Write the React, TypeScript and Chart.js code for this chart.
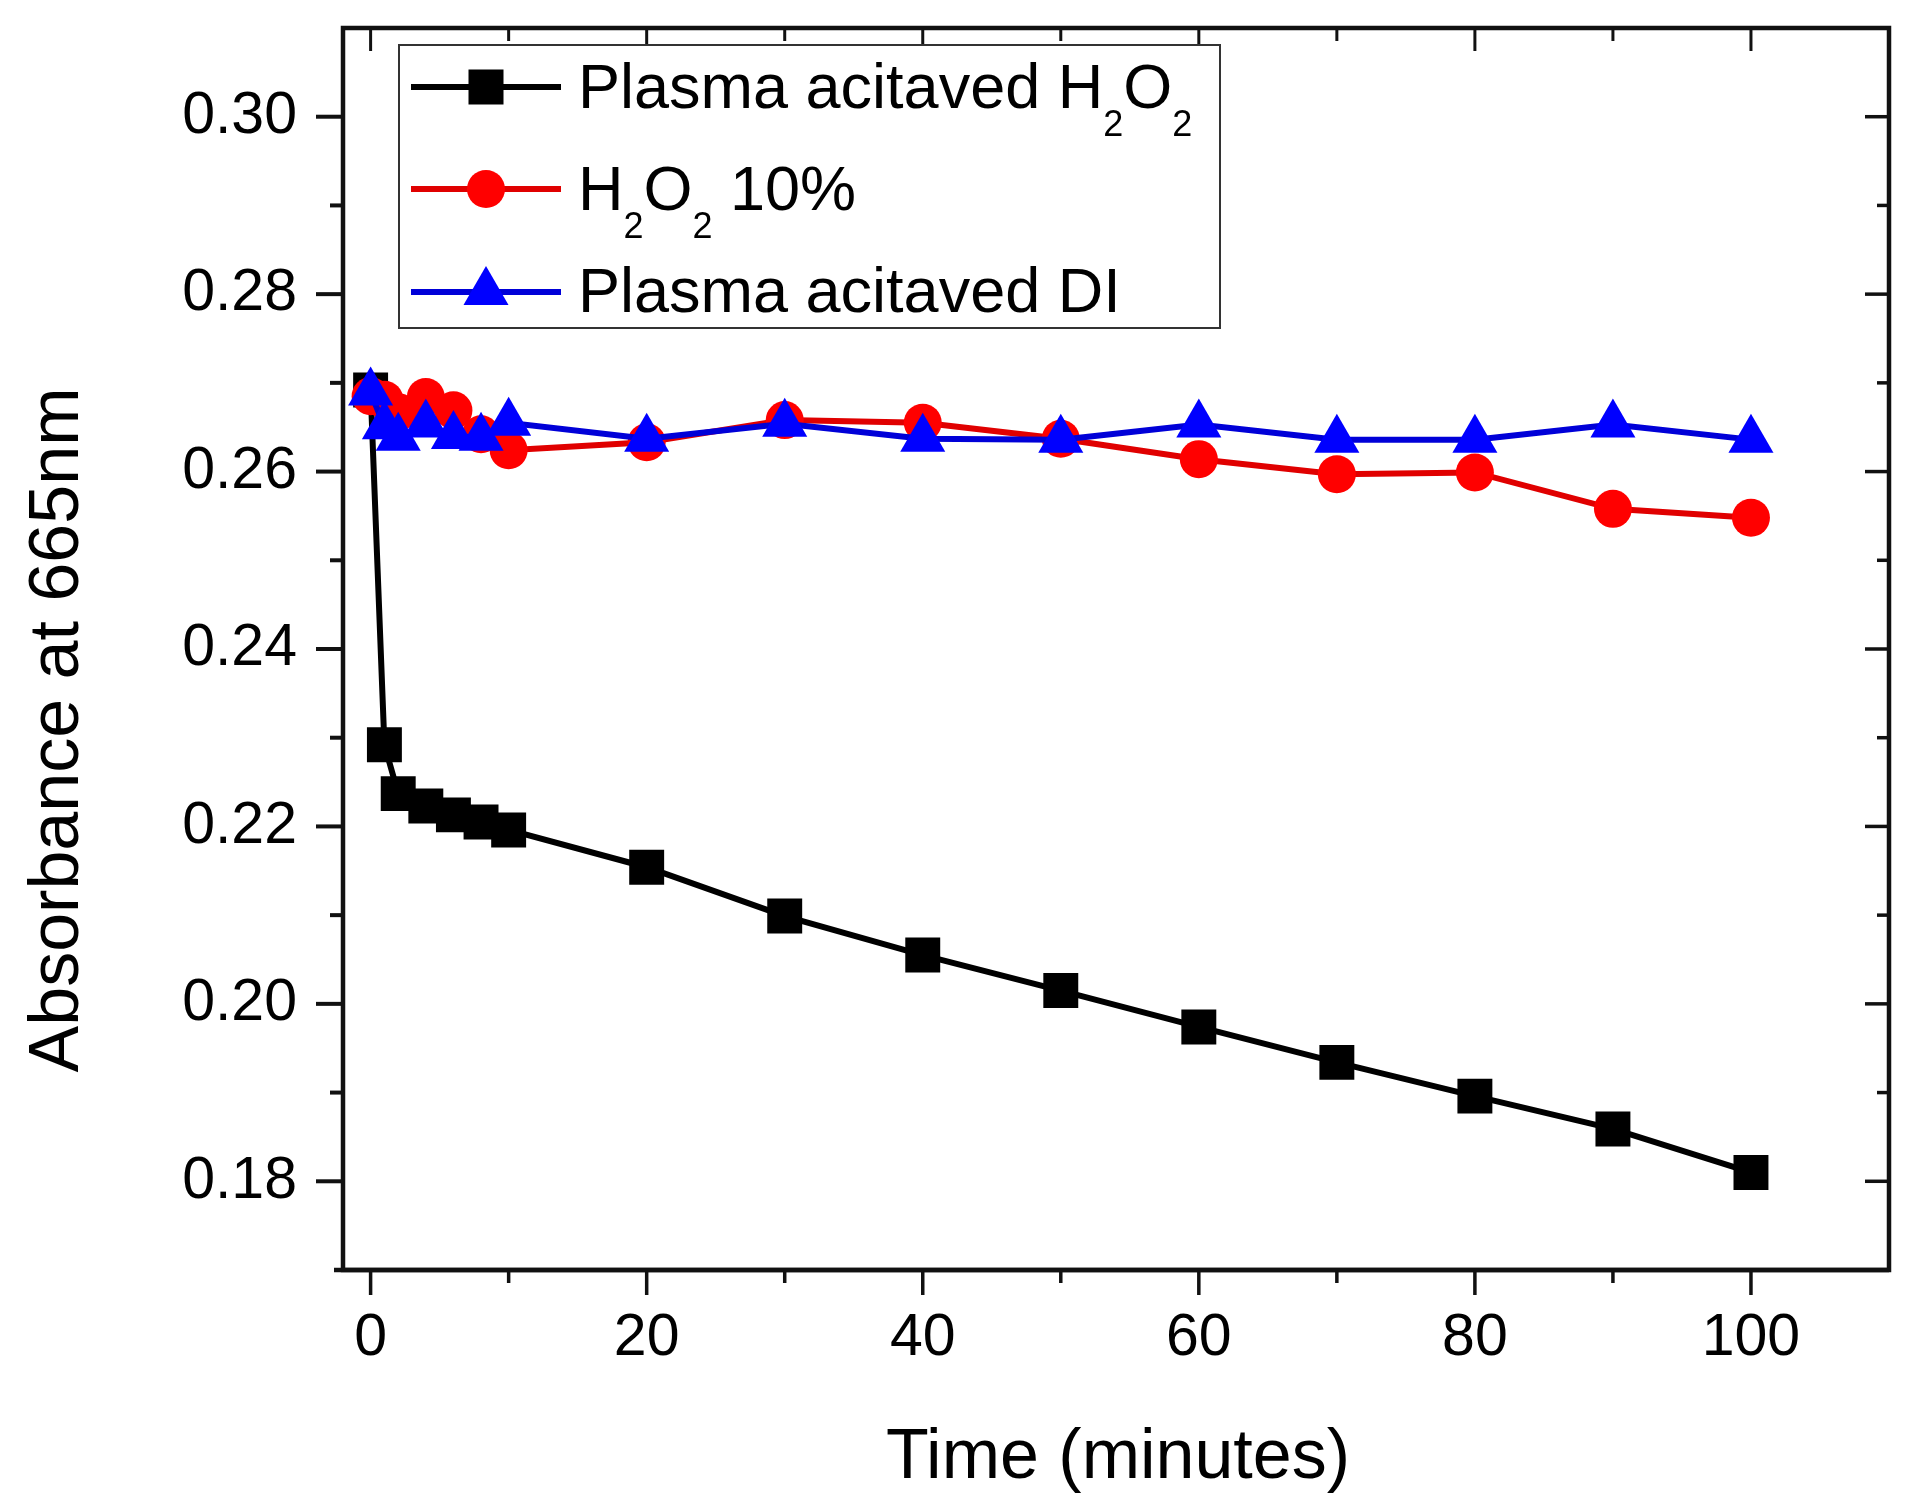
import React, { useEffect, useRef } from 'react';
import { Chart, registerables } from 'chart.js';

Chart.register(...registerables);

// ---- data ----
const TIME = [0, 1, 2, 4, 6, 8, 10, 20, 30, 40, 50, 60, 70, 80, 90, 100];
const PLASMA_H2O2 = [0.2692, 0.2292, 0.2237, 0.2223, 0.2213, 0.2205, 0.2196, 0.2154, 0.2099, 0.2055, 0.2015, 0.1974, 0.1934, 0.1896, 0.1859, 0.181];
const H2O2_10 = [0.2685, 0.2681, 0.2667, 0.2684, 0.2669, 0.2642, 0.2624, 0.2633, 0.2658, 0.2655, 0.2637, 0.2614, 0.2597, 0.2599, 0.2558, 0.2548];
const PLASMA_DI = [0.2689, 0.2651, 0.2638, 0.2653, 0.264, 0.2638, 0.2655, 0.2637, 0.2654, 0.2637, 0.2636, 0.2653, 0.2636, 0.2636, 0.2653, 0.2636];

const X_TICKS = [0, 20, 40, 60, 80, 100];
const X_TICK_LABELS = ['0', '20', '40', '60', '80', '100'];
const X_MINOR = [10, 30, 50, 70, 90];
const Y_TICKS = [0.18, 0.2, 0.22, 0.24, 0.26, 0.28, 0.3];
const Y_TICK_LABELS = ['0.18', '0.20', '0.22', '0.24', '0.26', '0.28', '0.30'];
const Y_MINOR = [0.19, 0.21, 0.23, 0.25, 0.27, 0.29];

const X_TITLE = 'Time (minutes)';
const Y_TITLE = 'Absorbance at 665nm';

type Part = { t: string; sub?: boolean };
const LEGEND_ROWS: { parts: Part[]; color: string; line: string; marker: string }[] = [
  { parts: [{ t: 'Plasma acitaved H' }, { t: '2', sub: true }, { t: 'O' }, { t: '2', sub: true }], color: '#000000', line: '#000000', marker: 'rect' },
  { parts: [{ t: 'H' }, { t: '2', sub: true }, { t: 'O' }, { t: '2', sub: true }, { t: ' 10%' }], color: '#ff0000', line: '#e00000', marker: 'circle' },
  { parts: [{ t: 'Plasma acitaved DI' }], color: '#0000ff', line: '#0000d8', marker: 'triangle' },
];

const FONT = '"Liberation Sans", Arial, Helvetica, sans-serif';

function drawMarker(ctx: CanvasRenderingContext2D, kind: string, x: number, y: number, color: string) {
  ctx.fillStyle = color;
  ctx.beginPath();
  if (kind === 'rect') {
    ctx.rect(x - 17.5, y - 17.5, 35, 35);
  } else if (kind === 'circle') {
    ctx.arc(x, y, 19, 0, Math.PI * 2);
  } else {
    const r = 26;
    ctx.moveTo(x, y - r);
    ctx.lineTo(x + r * Math.sin((2 * Math.PI) / 3), y - r * Math.cos((2 * Math.PI) / 3));
    ctx.lineTo(x + r * Math.sin((4 * Math.PI) / 3), y - r * Math.cos((4 * Math.PI) / 3));
    ctx.closePath();
  }
  ctx.fill();
}

export default function App() {
  const ref = useRef<HTMLCanvasElement>(null);

  useEffect(() => {
    if (!ref.current) return;

    const framePlugin = {
      id: 'frameTicks',
      afterDatasetsDraw(chart: any) {
        const ctx: CanvasRenderingContext2D = chart.ctx;
        const { left, right, top, bottom } = chart.chartArea;
        const xs = chart.scales.x;
        const ys = chart.scales.y;
        ctx.save();
        ctx.strokeStyle = '#111111';
        ctx.lineCap = 'butt';
        const xVals = [...X_TICKS.map((v) => [v, 1]), ...X_MINOR.map((v) => [v, 0])];
        for (const [v, major] of xVals) {
          const px = xs.getPixelForValue(v);
          ctx.lineWidth = 3.5;
          ctx.beginPath();
          ctx.moveTo(px, bottom);
          ctx.lineTo(px, bottom + (major ? 25 : 13));
          ctx.stroke();
          ctx.lineWidth = 3;
          ctx.beginPath();
          ctx.moveTo(px, top);
          ctx.lineTo(px, top + (major ? 23 : 13));
          ctx.stroke();
        }
        const yVals = [...Y_TICKS.map((v) => [v, 1]), ...Y_MINOR.map((v) => [v, 0])];
        for (const [v, major] of yVals) {
          const py = ys.getPixelForValue(v);
          ctx.lineWidth = 4;
          ctx.beginPath();
          ctx.moveTo(left, py);
          ctx.lineTo(left - (major ? 27 : 13), py);
          ctx.stroke();
          ctx.lineWidth = 3.5;
          ctx.beginPath();
          ctx.moveTo(right, py);
          ctx.lineTo(right - (major ? 24 : 12), py);
          ctx.stroke();
        }
        ctx.lineWidth = 4.5;
        ctx.strokeRect(left, top, right - left, bottom - top);
        // bottom axis line extends a little past the left axis, as in the original
        ctx.beginPath();
        ctx.moveTo(left - 9, bottom);
        ctx.lineTo(right, bottom);
        ctx.stroke();
        ctx.restore();
      },
      afterDraw(chart: any) {
        const ctx: CanvasRenderingContext2D = chart.ctx;
        const { left, right } = chart.chartArea;
        ctx.save();
        ctx.fillStyle = '#000';
        ctx.font = `70px ${FONT}`;
        ctx.textAlign = 'center';
        ctx.textBaseline = 'alphabetic';
        ctx.fillText(X_TITLE, (left + right) / 2 + 2, 1478);
        ctx.save();
        ctx.translate(78, 730);
        ctx.rotate(-Math.PI / 2);
        ctx.fillText(Y_TITLE, 0, 0);
        ctx.restore();

        // legend
        ctx.fillStyle = '#ffffff';
        ctx.fillRect(399, 45, 821, 283);
        ctx.strokeStyle = '#333333';
        ctx.lineWidth = 2;
        ctx.strokeRect(399, 45, 821, 283);
        const rowY = [87, 189, 292];
        const baseY = [108, 210, 312];
        LEGEND_ROWS.forEach((row, i) => {
          ctx.strokeStyle = row.line;
          ctx.lineWidth = 6;
          ctx.beginPath();
          ctx.moveTo(411, rowY[i]);
          ctx.lineTo(561, rowY[i]);
          ctx.stroke();
          drawMarker(ctx, row.marker, 486, rowY[i], row.color);
          let x = 578;
          ctx.fillStyle = '#000';
          ctx.textAlign = 'left';
          ctx.textBaseline = 'alphabetic';
          for (const p of row.parts) {
            if (p.sub) {
              ctx.font = `36px ${FONT}`;
              ctx.fillText(p.t, x, baseY[i] + 28);
            } else {
              ctx.font = `63px ${FONT}`;
              ctx.fillText(p.t, x, baseY[i]);
            }
            x += ctx.measureText(p.t).width;
          }
        });
        ctx.restore();
      },
    };

    const chart = new Chart(ref.current, {
      type: 'line',
      data: {
        datasets: [
          {
            label: 'Plasma acitaved H2O2',
            data: TIME.map((t, i) => ({ x: t, y: PLASMA_H2O2[i] })),
            borderColor: '#000000',
            backgroundColor: '#000000',
            borderWidth: 6,
            pointStyle: 'rect',
            pointRadius: 24.7,
            pointBorderWidth: 0,
            pointBackgroundColor: '#000000',
            tension: 0,
            order: 3,
          },
          {
            label: 'H2O2 10%',
            data: TIME.map((t, i) => ({ x: t, y: H2O2_10[i] })),
            borderColor: '#e00000',
            backgroundColor: '#ff0000',
            borderWidth: 6,
            pointStyle: 'circle',
            pointRadius: 19,
            pointBorderWidth: 0,
            pointBackgroundColor: '#ff0000',
            tension: 0,
            order: 2,
          },
          {
            label: 'Plasma acitaved DI',
            data: TIME.map((t, i) => ({ x: t, y: PLASMA_DI[i] })),
            borderColor: '#0000d8',
            backgroundColor: '#0000ff',
            borderWidth: 6,
            pointStyle: 'triangle',
            pointRadius: 26,
            pointBorderWidth: 0,
            pointBackgroundColor: '#0000ff',
            tension: 0,
            order: 1,
          },
        ],
      },
      options: {
        responsive: false,
        animation: false,
        devicePixelRatio: 1,
        layout: { padding: { left: 0, top: 28, right: 28, bottom: 0 } },
        plugins: { legend: { display: false }, tooltip: { enabled: false } },
        scales: {
          x: {
            type: 'linear',
            position: 'bottom',
            min: -2,
            max: 110,
            grid: { display: false, drawTicks: false },
            border: { display: false },
            afterBuildTicks: (scale: any) => {
              scale.ticks = X_TICKS.map((v) => ({ value: v }));
            },
            afterFit: (scale: any) => {
              scale.height = 229;
              scale.paddingLeft = 0;
              scale.paddingRight = 0;
              scale.paddingTop = 0;
              scale.paddingBottom = 0;
            },
            ticks: {
              padding: 33,
              maxRotation: 0,
              autoSkip: false,
              color: '#000',
              font: { family: FONT, size: 59 },
              callback: (v: any) => {
                const i = X_TICKS.indexOf(Number(v));
                return i >= 0 ? X_TICK_LABELS[i] : '';
              },
            },
          },
          y: {
            type: 'linear',
            min: 0.17,
            max: 0.31,
            grid: { display: false, drawTicks: false },
            border: { display: false },
            afterBuildTicks: (scale: any) => {
              scale.ticks = Y_TICKS.map((v) => ({ value: v }));
            },
            afterFit: (scale: any) => {
              scale.width = 343;
              scale.paddingLeft = 0;
              scale.paddingRight = 0;
              scale.paddingTop = 0;
              scale.paddingBottom = 0;
            },
            ticks: {
              padding: 46,
              autoSkip: false,
              color: '#000',
              font: { family: FONT, size: 59 },
              callback: (v: any) => {
                const i = Y_TICKS.findIndex((t) => Math.abs(t - Number(v)) < 1e-6);
                return i >= 0 ? Y_TICK_LABELS[i] : '';
              },
            },
          },
        },
      },
      plugins: [framePlugin],
    });

    return () => chart.destroy();
  }, []);

  return (
    <div style={{ position: 'absolute', left: 0, top: 0, width: 1917, height: 1499, background: '#ffffff', overflow: 'hidden' }}>
      <canvas ref={ref} width={1917} height={1499} style={{ display: 'block', width: 1917, height: 1499 }} />
    </div>
  );
}
